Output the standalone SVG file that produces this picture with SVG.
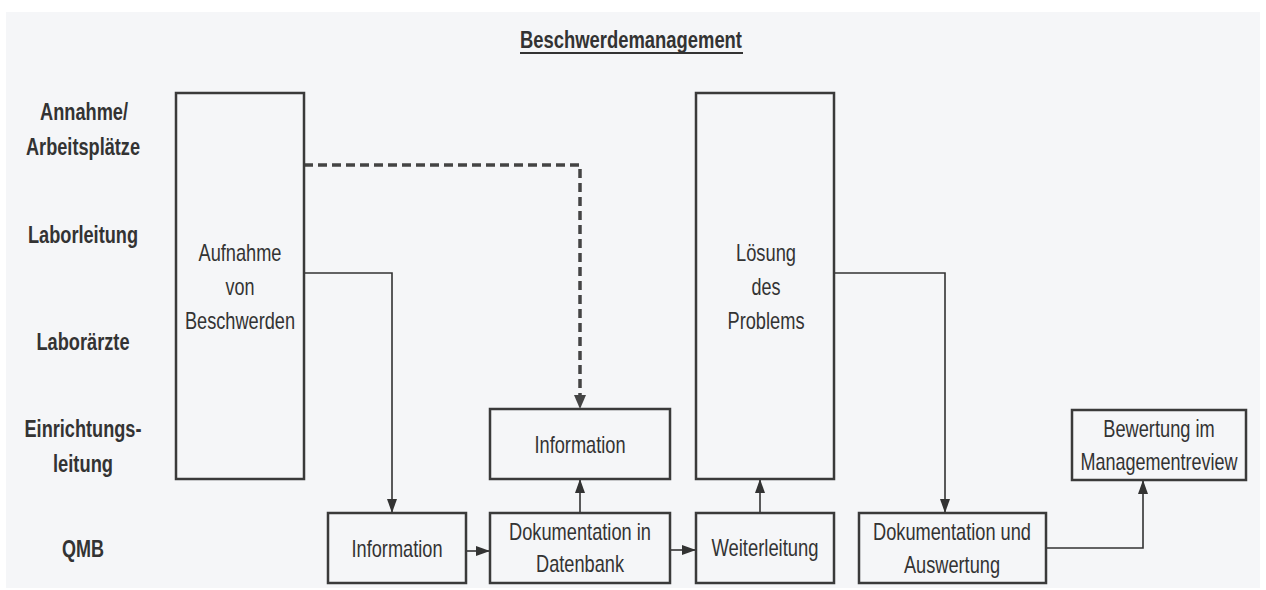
<svg xmlns="http://www.w3.org/2000/svg" width="1266" height="590" viewBox="0 0 1266 590">
<style>
.box{fill:none;stroke:#3a3a3a;stroke-width:2.5}
.t{font-family:"Liberation Sans",Arial,sans-serif;font-size:24px;fill:#333;text-anchor:middle}
.lbl{font-family:"Liberation Sans",Arial,sans-serif;font-size:23px;font-weight:bold;fill:#333;text-anchor:middle}
.ln{fill:none;stroke:#333;stroke-width:1.6}
.dash{fill:none;stroke:#444;stroke-width:3.5;stroke-dasharray:9 5}
</style>
<defs>
<marker id="ah" markerUnits="userSpaceOnUse" markerWidth="14" markerHeight="12" viewBox="0 0 14 12" refX="14" refY="6" orient="auto">
<path d="M0,1 L14,6 L0,11 Z" fill="#333"/>
</marker>
</defs>
<rect x="0" y="0" width="1266" height="590" fill="#ffffff"/>
<rect x="6" y="12" width="1254" height="576" fill="#f5f6f8"/>

<g id="title">
<text class="lbl" x="631" y="48" textLength="222" lengthAdjust="spacingAndGlyphs">Beschwerdemanagement</text>
<line x1="520" y1="53" x2="743" y2="53" stroke="#333" stroke-width="2"/>
</g>

<g id="lanes">
<text class="lbl" x="84" y="120" textLength="88" lengthAdjust="spacingAndGlyphs">Annahme/</text>
<text class="lbl" x="83" y="155" textLength="114" lengthAdjust="spacingAndGlyphs">Arbeitsplätze</text>
<text class="lbl" x="83" y="243" textLength="110" lengthAdjust="spacingAndGlyphs">Laborleitung</text>
<text class="lbl" x="83" y="350" textLength="93" lengthAdjust="spacingAndGlyphs">Laborärzte</text>
<text class="lbl" x="83" y="437" textLength="117" lengthAdjust="spacingAndGlyphs">Einrichtungs-</text>
<text class="lbl" x="83" y="472" textLength="60" lengthAdjust="spacingAndGlyphs">leitung</text>
<text class="lbl" x="83" y="557" textLength="42" lengthAdjust="spacingAndGlyphs">QMB</text>
</g>

<g id="connectors">
<path class="dash" d="M304,165 H580 V397"/>
<path d="M574,395 L580,409 L586,395 Z" fill="#444"/>
<path class="ln" d="M304,273 H392 V513" marker-end="url(#ah)"/>
<path class="ln" d="M835,273 H945 V513" marker-end="url(#ah)"/>
<path class="ln" d="M466,551 H490" marker-end="url(#ah)"/>
<path class="ln" d="M670,550 H696" marker-end="url(#ah)"/>
<path class="ln" d="M580,513 V479" marker-end="url(#ah)"/>
<path class="ln" d="M760,513 V479" marker-end="url(#ah)"/>
<path class="ln" d="M1046,548 H1143 V480" marker-end="url(#ah)"/>
</g>

<g id="aufnahme">
<rect class="box" x="176" y="93" width="128" height="386"/>
<text class="t" x="240" y="261" textLength="83" lengthAdjust="spacingAndGlyphs">Aufnahme</text>
<text class="t" x="240" y="295" textLength="29" lengthAdjust="spacingAndGlyphs">von</text>
<text class="t" x="240" y="329" textLength="110" lengthAdjust="spacingAndGlyphs">Beschwerden</text>
</g>

<g id="loesung">
<rect class="box" x="696" y="93" width="138" height="386"/>
<text class="t" x="766" y="261" textLength="60" lengthAdjust="spacingAndGlyphs">Lösung</text>
<text class="t" x="766" y="295" textLength="29" lengthAdjust="spacingAndGlyphs">des</text>
<text class="t" x="766" y="329" textLength="77" lengthAdjust="spacingAndGlyphs">Problems</text>
</g>

<g id="information-el">
<rect class="box" x="490" y="409" width="180" height="70"/>
<text class="t" x="580" y="453" textLength="91" lengthAdjust="spacingAndGlyphs">Information</text>
</g>

<g id="bewertung">
<rect class="box" x="1072" y="410" width="174" height="70"/>
<text class="t" transform="translate(1159,437) scale(0.76,1)" x="0" y="0">Bewertung im</text>
<text class="t" transform="translate(1159,470) scale(0.75,1)" x="0" y="0">Managementreview</text>
</g>

<g id="information-qmb">
<rect class="box" x="328" y="513" width="138" height="70"/>
<text class="t" x="397" y="557" textLength="91" lengthAdjust="spacingAndGlyphs">Information</text>
</g>

<g id="dokumentation-db">
<rect class="box" x="490" y="513" width="180" height="70"/>
<text class="t" x="580" y="540" textLength="142" lengthAdjust="spacingAndGlyphs">Dokumentation in</text>
<text class="t" x="580" y="572" textLength="88" lengthAdjust="spacingAndGlyphs">Datenbank</text>
</g>

<g id="weiterleitung">
<rect class="box" x="696" y="513" width="138" height="70"/>
<text class="t" x="765" y="556" textLength="107" lengthAdjust="spacingAndGlyphs">Weiterleitung</text>
</g>

<g id="dokumentation-auswertung">
<rect class="box" x="859" y="513" width="187" height="70"/>
<text class="t" x="952" y="540" textLength="158" lengthAdjust="spacingAndGlyphs">Dokumentation und</text>
<text class="t" x="952" y="573" textLength="96" lengthAdjust="spacingAndGlyphs">Auswertung</text>
</g>
</svg>
